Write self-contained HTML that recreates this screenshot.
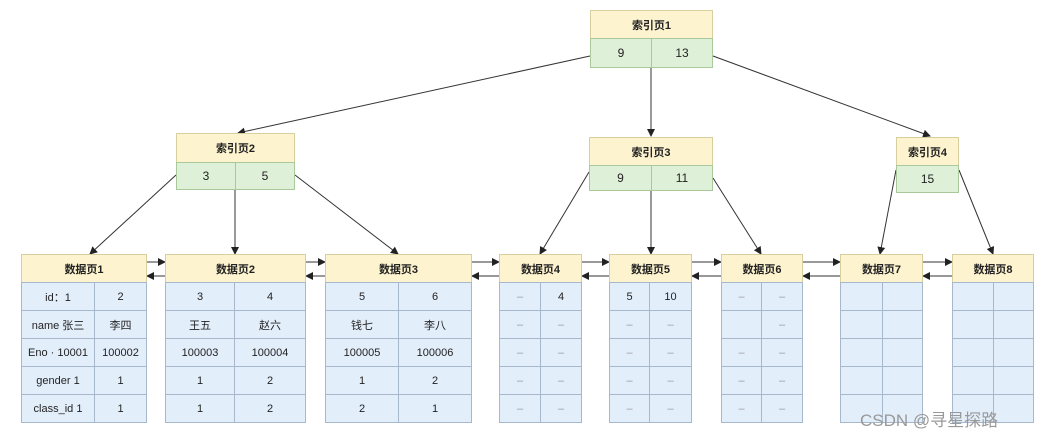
<!DOCTYPE html>
<html><head><meta charset="utf-8"><style>
body{margin:0;background:#fff;width:1042px;height:438px;overflow:hidden;position:relative;font-family:"Liberation Sans","Noto Sans CJK SC",sans-serif;}
.b{position:absolute;box-sizing:border-box;border:1px solid #b9c3cc;display:flex;align-items:center;justify-content:center;font-size:11px;color:#222}
.h{background:#fdf3cf;font-weight:bold;border-color:#d8cfa0}
.g{background:#dff0d8;border-color:#a9c99a;font-size:12px}
.c{background:#e3eefb;border-color:#a8b8cc}
.d{color:#999}
svg{position:absolute;left:0;top:0}
</style></head><body>
<svg width="1042" height="438">
<defs><marker id="a" markerWidth="8" markerHeight="8" refX="7" refY="4" orient="auto"><path d="M0,0 L8,4 L0,8 z" fill="#222"/></marker></defs>
<g stroke="#333" stroke-width="1" fill="none" marker-end="url(#a)">
<line x1="590" y1="56" x2="238" y2="133"/>
<line x1="651" y1="68" x2="651" y2="136"/>
<line x1="713" y1="56" x2="930" y2="136"/>
<line x1="176" y1="175" x2="90" y2="254"/>
<line x1="235" y1="190" x2="235" y2="254"/>
<line x1="295" y1="175" x2="398" y2="254"/>
<line x1="589" y1="172" x2="540" y2="254"/>
<line x1="651" y1="191" x2="651" y2="254"/>
<line x1="713" y1="178" x2="761" y2="254"/>
<line x1="896" y1="170" x2="880" y2="254"/>
<line x1="959" y1="170" x2="993" y2="254"/>
<line x1="147" y1="262" x2="165" y2="262"/><line x1="165" y1="276" x2="147" y2="276"/>
<line x1="306" y1="262" x2="325" y2="262"/><line x1="325" y1="276" x2="306" y2="276"/>
<line x1="472" y1="262" x2="499" y2="262"/><line x1="499" y1="276" x2="472" y2="276"/>
<line x1="582" y1="262" x2="609" y2="262"/><line x1="609" y1="276" x2="582" y2="276"/>
<line x1="692" y1="262" x2="721" y2="262"/><line x1="721" y1="276" x2="692" y2="276"/>
<line x1="803" y1="262" x2="840" y2="262"/><line x1="840" y1="276" x2="803" y2="276"/>
<line x1="923" y1="262" x2="952" y2="262"/><line x1="952" y1="276" x2="923" y2="276"/>
</g></svg>
<div class="b h" style="left:590px;top:10px;width:123px;height:29px">索引页1</div>
<div class="b g" style="left:590px;top:38px;width:62px;height:30px">9</div>
<div class="b g" style="left:651px;top:38px;width:62px;height:30px">13</div>
<div class="b h" style="left:176px;top:133px;width:119px;height:30px">索引页2</div>
<div class="b g" style="left:176px;top:162px;width:60px;height:28px">3</div>
<div class="b g" style="left:235px;top:162px;width:60px;height:28px">5</div>
<div class="b h" style="left:589px;top:137px;width:124px;height:29px">索引页3</div>
<div class="b g" style="left:589px;top:165px;width:63px;height:26px">9</div>
<div class="b g" style="left:651px;top:165px;width:62px;height:26px">11</div>
<div class="b h" style="left:896px;top:137px;width:63px;height:29px">索引页4</div>
<div class="b g" style="left:896px;top:165px;width:63px;height:28px">15</div>
<div id="p"></div>
<div style="position:absolute;left:860px;top:406px;font-size:17px;color:#999">CSDN @寻星探路</div>
<script>
var P=[[21,94,147,"数据页1",[["id：1","2"],["name  张三","李四"],["Eno · 10001","100002"],["gender  1","1"],["class_id  1","1"]],0],
[165,234,306,"数据页2",[["3","4"],["王五","赵六"],["100003","100004"],["1","2"],["1","2"]],0],
[325,398,472,"数据页3",[["5","6"],["钱七","李八"],["100005","100006"],["1","2"],["2","1"]],0],
[499,540,582,"数据页4",[["–","4"],["–","–"],["–","–"],["–","–"],["–","–"]],1],
[609,649,692,"数据页5",[["5","10"],["–","–"],["–","–"],["–","–"],["–","–"]],1],
[721,761,803,"数据页6",[["–","–"],["","–"],["–","–"],["–","–"],["–","–"]],1],
[840,882,923,"数据页7",[["",""],["",""],["",""],["",""],["",""]],1],
[952,993,1034,"数据页8",[["",""],["",""],["",""],["",""],["",""]],1]];
var h="";P.forEach(function(p){h+='<div class="b h" style="left:'+p[0]+'px;top:254px;width:'+(p[2]-p[0])+'px;height:29px">'+p[3]+'</div>';
p[4].forEach(function(r,i){var y=282+i*28;
h+='<div class="b c'+(p[5]&&r[0]!="5"?' d':'')+'" style="left:'+p[0]+'px;top:'+y+'px;width:'+(p[1]-p[0]+1)+'px;height:29px">'+r[0]+'</div>';
h+='<div class="b c'+(p[5]&&r[1]!="4"&&r[1]!="10"?' d':'')+'" style="left:'+p[1]+'px;top:'+y+'px;width:'+(p[2]-p[1])+'px;height:29px">'+r[1]+'</div>';});});
document.getElementById("p").innerHTML=h;
</script>
</body></html>
